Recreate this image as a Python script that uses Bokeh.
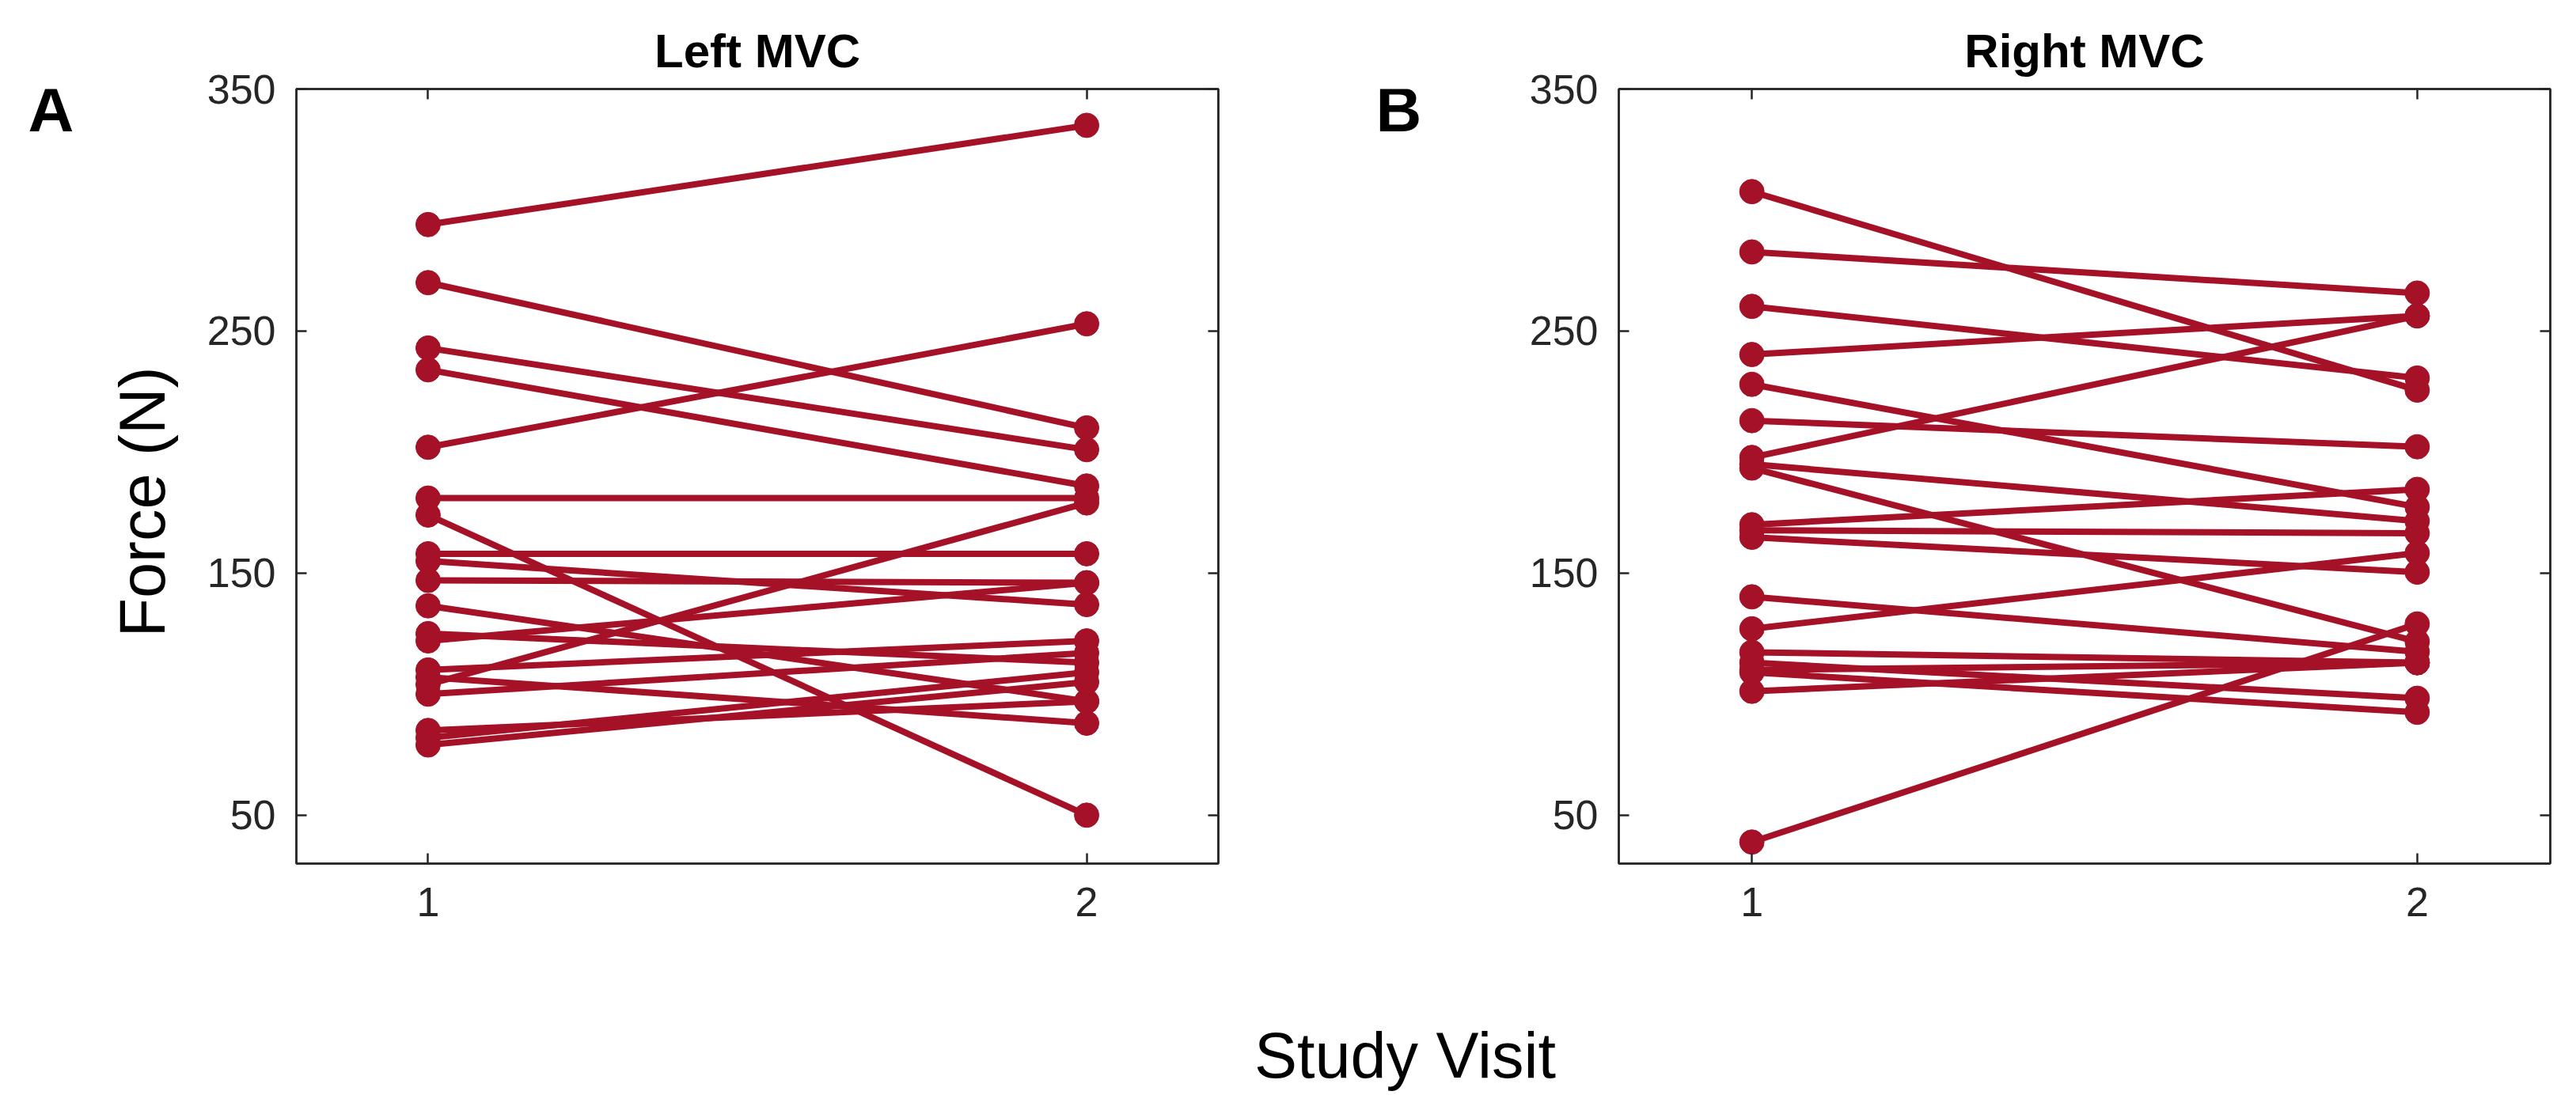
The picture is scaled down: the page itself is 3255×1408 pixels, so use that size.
import numpy as np
import bokeh.plotting
from bokeh.layouts import row, column
from bokeh.models import Range1d, LinearAxis, FixedTicker, Label
from bokeh.embed import file_html
from bokeh.resources import INLINE

# force (N) per subject at visit 1 and visit 2
left_visit1 = [294, 270, 243, 234, 202, 181, 174, 158, 155, 147,
               136.5, 125, 122, 110, 107, 104, 100, 85, 82, 79]
left_visit2 = [335, 210, 201, 186, 253, 181, 50, 158, 137, 146,
               97, 113, 146, 122, 88, 179, 117, 97, 109, 105]

right_visit1 = [307.6, 282.7, 260.2, 240.3, 228, 213, 197.8, 195, 193.4, 170,
                167.7, 164.8, 140.2, 127, 117.3, 113, 110, 109, 101.2, 38.9]
right_visit2 = [225.6, 265.7, 230.6, 256.3, 177.3, 202.2, 256.3, 171.5, 121.7, 184.6,
                166.5, 150.4, 117.5, 158.3, 113, 98.3, 113, 92.5, 113, 129]

visits = [1, 2]
y_ticks = [50, 150, 250, 350]
panel_titles = ['Left MVC', 'Right MVC']
panel_letters = ['A', 'B']

red = '#A51228'
ink = '#262626'
font = 'Liberation Sans'

ROW_H = 1230
BOTTOM_H = 1408 - ROW_H
FRAME_TOP, FRAME_BOTTOM = 112, 1091
Y_LO, Y_HI = 30, 350


def force_at(py):
    # page pixel row -> force value (frames of a row are aligned)
    return Y_HI - (py - FRAME_TOP) / (FRAME_BOTTOM - FRAME_TOP) * (Y_HI - Y_LO)


def text_strip(width, height, y_range):
    # blank svg canvas used only to hold free text
    f = bokeh.plotting.figure(width=width, height=height,
                              x_range=Range1d(0, width), y_range=y_range,
                              x_axis_type=None, y_axis_type=None, min_border=0,
                              output_backend='svg', toolbar_location=None)
    f.grid.visible = False
    f.outline_line_color = None
    return f


def make_panel(v1, v2, title, width, border_left, border_right):
    p = bokeh.plotting.figure(width=width, height=ROW_H,
                              x_range=Range1d(0.8, 2.2), y_range=Range1d(Y_LO, Y_HI),
                              min_border_left=border_left, min_border_right=border_right,
                              min_border_top=FRAME_TOP, min_border_bottom=ROW_H - FRAME_BOTTOM,
                              output_backend='svg', toolbar_location=None)
    p.grid.visible = False
    p.outline_line_color = ink
    p.outline_line_width = 2.5

    p.title.text = title
    p.title.align = 'center'
    p.title.text_font = font
    p.title.text_font_size = '60px'
    p.title.text_font_style = 'bold'
    p.title.text_color = 'black'
    p.title.standoff = 30

    n = len(v1)
    p.segment([visits[0]] * n, v1, [visits[1]] * n, v2, line_color=red, line_width=8)
    p.scatter([visits[0]] * n, v1, size=31, color=red)
    p.scatter([visits[1]] * n, v2, size=31, color=red)

    p.xaxis.ticker = FixedTicker(ticks=visits)
    p.yaxis.ticker = FixedTicker(ticks=y_ticks)
    p.xaxis.major_label_standoff = 30
    p.yaxis.major_label_standoff = 26

    # mirrored box ticks
    p.add_layout(LinearAxis(ticker=FixedTicker(ticks=y_ticks),
                            major_label_overrides={t: '' for t in y_ticks}), 'right')
    p.add_layout(LinearAxis(ticker=FixedTicker(ticks=visits),
                            major_label_overrides={t: '' for t in visits}), 'above')

    for ax in p.axis:
        ax.axis_line_color = ink
        ax.axis_line_width = 2.5
        ax.major_tick_line_color = ink
        ax.major_tick_line_width = 2.5
        ax.major_tick_in = 13
        ax.major_tick_out = 0
        ax.minor_tick_line_color = None
        ax.major_label_text_font = font
        ax.major_label_text_font_size = '52px'
        ax.major_label_text_color = ink
    for ax in p.right + p.above:
        ax.major_label_standoff = 0
    return p


# left gutter: panel letter A and the shared y label
gutter_a = text_strip(240, ROW_H, Range1d(Y_LO, Y_HI))
gutter_a.add_layout(Label(x=64, y=force_at(138), text=panel_letters[0], text_font=font,
                          text_font_size='80px', text_font_style='bold', text_color='black',
                          text_align='center', text_baseline='middle'))
gutter_a.add_layout(Label(x=179, y=force_at(634), text='Force (N)', angle=np.pi / 2, text_font=font,
                          text_font_size='81px', text_color='black',
                          text_align='center', text_baseline='middle'))

p1 = make_panel(left_visit1, left_visit2, panel_titles[0], 1400, 134, 101)

gutter_b = text_strip(260, ROW_H, Range1d(Y_LO, Y_HI))
gutter_b.add_layout(Label(x=127, y=force_at(138), text=panel_letters[1], text_font=font,
                          text_font_size='80px', text_font_style='bold', text_color='black',
                          text_align='center', text_baseline='middle'))

p2 = make_panel(right_visit1, right_visit2, panel_titles[1], 1355, 145, 33)

# shared x label underneath both panels
bottom = text_strip(3255, BOTTOM_H, Range1d(BOTTOM_H, 0))
bottom.add_layout(Label(x=1775, y=103, text='Study Visit', text_font=font, text_font_size='81px',
                        text_color='black', text_align='center', text_baseline='alphabetic'))

p = column(row(gutter_a, p1, gutter_b, p2), bottom)
open("out.html", "w").write(file_html(p, INLINE))
